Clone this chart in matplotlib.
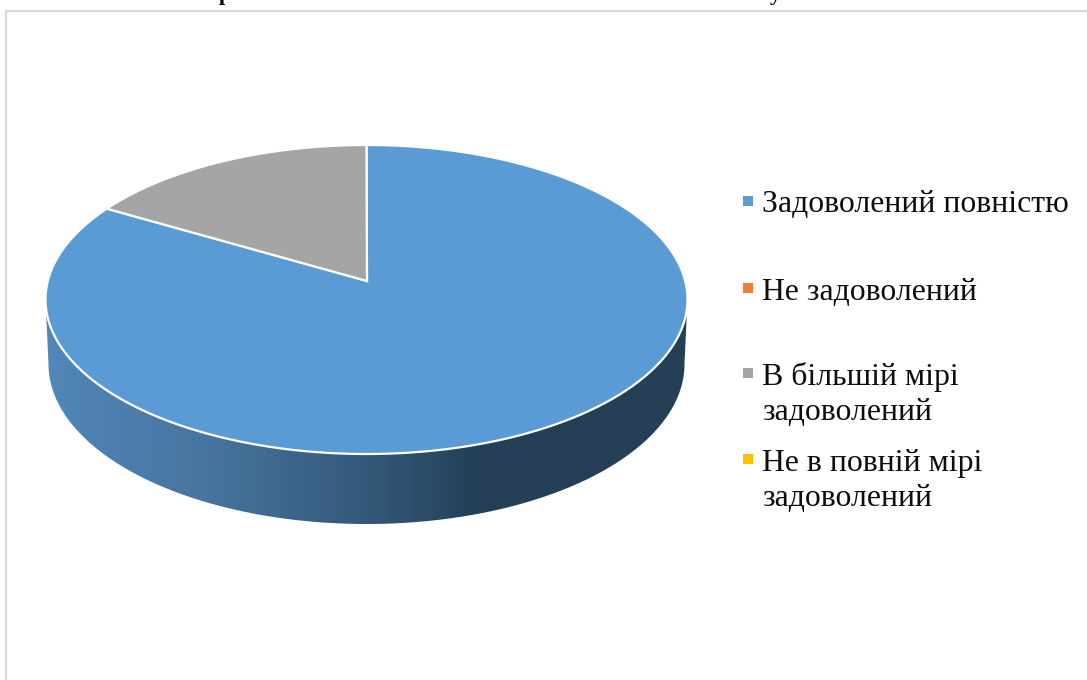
import numpy as np
import matplotlib
matplotlib.use("Agg")
import matplotlib.pyplot as plt
from matplotlib.colors import LinearSegmentedColormap
from matplotlib.patches import Polygon

plt.rcParams['font.family'] = ['Liberation Serif', 'DejaVu Serif']

labels = ["Задоволений повністю", "Не задоволений",
          "В більшій мірі\nзадоволений", "Не в повній мірі\nзадоволений"]
values = [85, 0, 15, 0]
colors = ["#5b9bd5", "#ed7d31", "#a5a5a5", "#ffc000"]

# pie geometry in pixels
cx, cy, rx, ry = 366.5, 299.5, 321, 154.5
apex = (367, 281)
cx2, cy2, rx2, ry2 = 366.5, 364, 318, 160

fig = plt.figure(figsize=(10.87, 6.8), dpi=100)
ax = fig.add_axes([0, 0, 1, 1])
ax.set_xlim(0, 1087)
ax.set_ylim(680, 0)
ax.axis('off')

# frame of the chart, runs off the right and bottom of the picture
ax.plot([6, 6, 1087], [680, 10.5, 10.5], color="#d9d9d9", lw=1.6, zorder=1)

# side wall with horizontal gradient
t = np.linspace(np.pi, 0, 300)
top_x, top_y = cx + rx * np.cos(t), cy + ry * np.sin(t)
bot_x, bot_y = cx2 + rx2 * np.cos(t), cy2 + ry2 * np.sin(t)
side = Polygon(np.r_[np.c_[top_x, top_y], np.c_[bot_x, bot_y][::-1]],
               closed=True, fc='none', ec='none', transform=ax.transData)
ax.add_patch(side)
cmap = LinearSegmentedColormap.from_list("wall", [
    (0.0, "#5187ba"), (0.25, "#47759f"), (0.5, "#34587a"),
    (0.68, "#243f56"), (1.0, "#243f56")])
img = ax.imshow(np.linspace(0, 1, 512)[None, :], cmap=cmap, aspect='auto',
                extent=[45, 688, 530, 290], zorder=2)
img.set_clip_path(side)
ax.set_xlim(0, 1087)
ax.set_ylim(680, 0)

# top face, slices go clockwise from 12 o'clock
start = 0.0
total = sum(values)
for val, col in zip(values, colors):
    if val == 0:
        continue
    end = start + val / total * 2 * np.pi
    a = np.linspace(start, end, 400)
    px = cx + rx * np.sin(a)
    py = cy - ry * np.cos(a)
    ax.add_patch(Polygon(np.r_[[apex], np.c_[px, py]], closed=True, fc=col,
                         ec='white', lw=1.6, joinstyle='miter', zorder=3))
    start = end

# legend
legend_y = [201, 288, 373, 459]
line_h = 36
for lab, col, y in zip(labels, colors, legend_y):
    ax.scatter([747.5], [y], marker='s', s=50, color=col, linewidths=0, zorder=4)
    for i, part in enumerate(lab.split("\n")):
        ax.text(762.5, y + 11.5 + i * line_h, part, fontsize=22.9, color="#0d0d0d",
                ha='left', va='baseline', zorder=4)

# cut-off heading above the chart, only its descenders are in the picture
for x, s in [(225, "р"), (775, "у")]:
    ax.text(x, 0, s, fontsize=16, fontweight='bold', color='black',
            ha='center', va='baseline', clip_on=True, zorder=4)

fig.savefig("out.png", dpi=100)
